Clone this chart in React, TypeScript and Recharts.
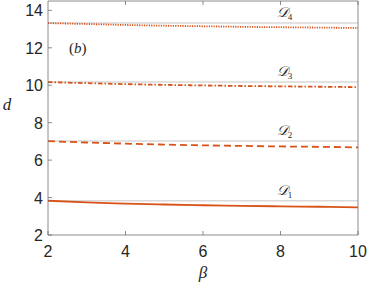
import React from 'react';
import { LineChart, Line, XAxis, YAxis, ReferenceLine, ReferenceDot } from 'recharts';

const beta = [2, 3, 4, 5, 6, 7, 8, 9, 10];
const d1 = [3.83, 3.74, 3.68, 3.63, 3.59, 3.56, 3.53, 3.51, 3.48];
const d2 = [7.01, 6.94, 6.88, 6.83, 6.79, 6.76, 6.73, 6.71, 6.68];
const d3 = [10.17, 10.11, 10.06, 10.02, 9.99, 9.96, 9.94, 9.92, 9.9];
const d4 = [13.32, 13.27, 13.22, 13.18, 13.15, 13.12, 13.1, 13.08, 13.06];
const asymptotes = [3.8317, 7.0156, 10.1735, 13.3237];
const modeSubscripts = ['1', '2', '3', '4'];
const labelBeta = 8.1;
const xTicks = [2, 4, 6, 8, 10];
const yTicks = [2, 4, 6, 8, 10, 12, 14];

const data = beta.map((b, i) => ({ beta: b, d1: d1[i], d2: d2[i], d3: d3[i], d4: d4[i] }));

const AXIS = '#6e6e6e';
const TEXT = '#262626';
const RED = '#D95319';
const GRAY = '#d9d9d9';
const SANS = '"Liberation Sans", Arial, sans-serif';
const SERIF = '"Liberation Serif", "DejaVu Serif", serif';

const BottomTick = (p: any) => (
  <g>
    <line x1={p.x} y1={p.y} x2={p.x} y2={p.y - 4} stroke={AXIS} strokeWidth={0.8} />
    <text x={p.x} y={p.y + 22} textAnchor="middle" fontFamily={SANS} fontSize={16} fill={TEXT}>
      {p.payload.value}
    </text>
  </g>
);
const TopTick = (p: any) => (
  <line x1={p.x} y1={p.y} x2={p.x} y2={p.y + 4} stroke={AXIS} strokeWidth={0.8} />
);
const LeftTick = (p: any) => (
  <g>
    <line x1={p.x} y1={p.y} x2={p.x + 4} y2={p.y} stroke={AXIS} strokeWidth={0.8} />
    <text x={p.x - 5} y={p.y + 6} textAnchor="end" fontFamily={SANS} fontSize={16} fill={TEXT}>
      {p.payload.value}
    </text>
  </g>
);
const RightTick = (p: any) => (
  <line x1={p.x} y1={p.y} x2={p.x - 4} y2={p.y} stroke={AXIS} strokeWidth={0.8} />
);

const ModeLabel = (sub: string) => (p: any) => {
  const vb = p.viewBox;
  return (
    <text x={vb.x} y={vb.y - 6} textAnchor="middle" fontFamily={SERIF} fontStyle="italic" fontSize={14} fill={TEXT}>
      𝒟<tspan fontSize={9} dy={3} fontStyle="normal">{sub}</tspan>
    </text>
  );
};

const TagLabel = (p: any) => {
  const vb = p.viewBox;
  return (
    <text x={vb.x} y={vb.y + 5} textAnchor="start" fontFamily={SERIF} fontSize={15} fill={TEXT}>
      (<tspan fontStyle="italic">b</tspan>)
    </text>
  );
};

const YLabel = (p: any) => {
  const vb = p.viewBox;
  return (
    <text x={7} y={vb.y + vb.height / 2 - 8} textAnchor="middle" fontFamily={SERIF} fontStyle="italic" fontSize={17} fill={TEXT}>
      d
    </text>
  );
};
const XLabel = (p: any) => {
  const vb = p.viewBox;
  return (
    <text x={vb.x + vb.width / 2} y={vb.y + 43} textAnchor="middle" fontFamily={SERIF} fontStyle="italic" fontSize={17} fill={TEXT}>
      β
    </text>
  );
};

export default function App() {
  return (
    <div style={{ position: 'absolute', left: 0, top: 0, width: 369, height: 284, background: '#fff' }}>
      <LineChart width={369} height={284} data={data} margin={{ top: 0, right: 0, bottom: 0, left: 0 }}>
        <XAxis
          dataKey="beta"
          type="number"
          domain={[2, 10]}
          ticks={xTicks}
          interval={0}
          tickSize={0}
          tickMargin={0}
          height={49}
          axisLine={{ stroke: AXIS, strokeWidth: 0.8 }}
          tickLine={false}
          tick={BottomTick}
          label={XLabel}
        />
        <XAxis
          xAxisId="top"
          orientation="top"
          type="number"
          domain={[2, 10]}
          ticks={xTicks}
          interval={0}
          tickSize={0}
          tickMargin={0}
          height={1}
          axisLine={{ stroke: AXIS, strokeWidth: 0.8 }}
          tickLine={false}
          tick={TopTick}
        />
        <YAxis
          type="number"
          domain={[2, 14.5]}
          ticks={yTicks}
          interval={0}
          tickSize={0}
          tickMargin={0}
          width={48}
          axisLine={{ stroke: AXIS, strokeWidth: 0.8 }}
          tickLine={false}
          tick={LeftTick}
          label={YLabel}
        />
        <YAxis
          yAxisId="right"
          orientation="right"
          type="number"
          domain={[2, 14.5]}
          ticks={yTicks}
          interval={0}
          tickSize={0}
          tickMargin={0}
          width={11}
          axisLine={{ stroke: AXIS, strokeWidth: 0.8 }}
          tickLine={false}
          tick={RightTick}
        />
        {asymptotes.map((a, i) => (
          <ReferenceLine key={'a' + i} y={a} stroke={GRAY} strokeWidth={1.5} />
        ))}
        <Line dataKey="d1" stroke={RED} strokeWidth={1.8} dot={false} isAnimationActive={false} type="monotone" />
        <Line dataKey="d2" stroke={RED} strokeWidth={1.8} strokeDasharray="7 4" dot={false} isAnimationActive={false} type="monotone" />
        <Line dataKey="d3" stroke={RED} strokeWidth={1.8} strokeDasharray="4.5 2 1.5 2" dot={false} isAnimationActive={false} type="monotone" />
        <Line dataKey="d4" stroke={RED} strokeWidth={1.8} strokeDasharray="1.2 1.2" dot={false} isAnimationActive={false} type="monotone" />
        {asymptotes.map((a, i) => (
          <ReferenceDot key={'l' + i} x={labelBeta} y={a} r={0} fill="none" stroke="none" label={ModeLabel(modeSubscripts[i])} />
        ))}
        <ReferenceDot x={2.54} y={12} r={0} fill="none" stroke="none" label={TagLabel} />
      </LineChart>
    </div>
  );
}
